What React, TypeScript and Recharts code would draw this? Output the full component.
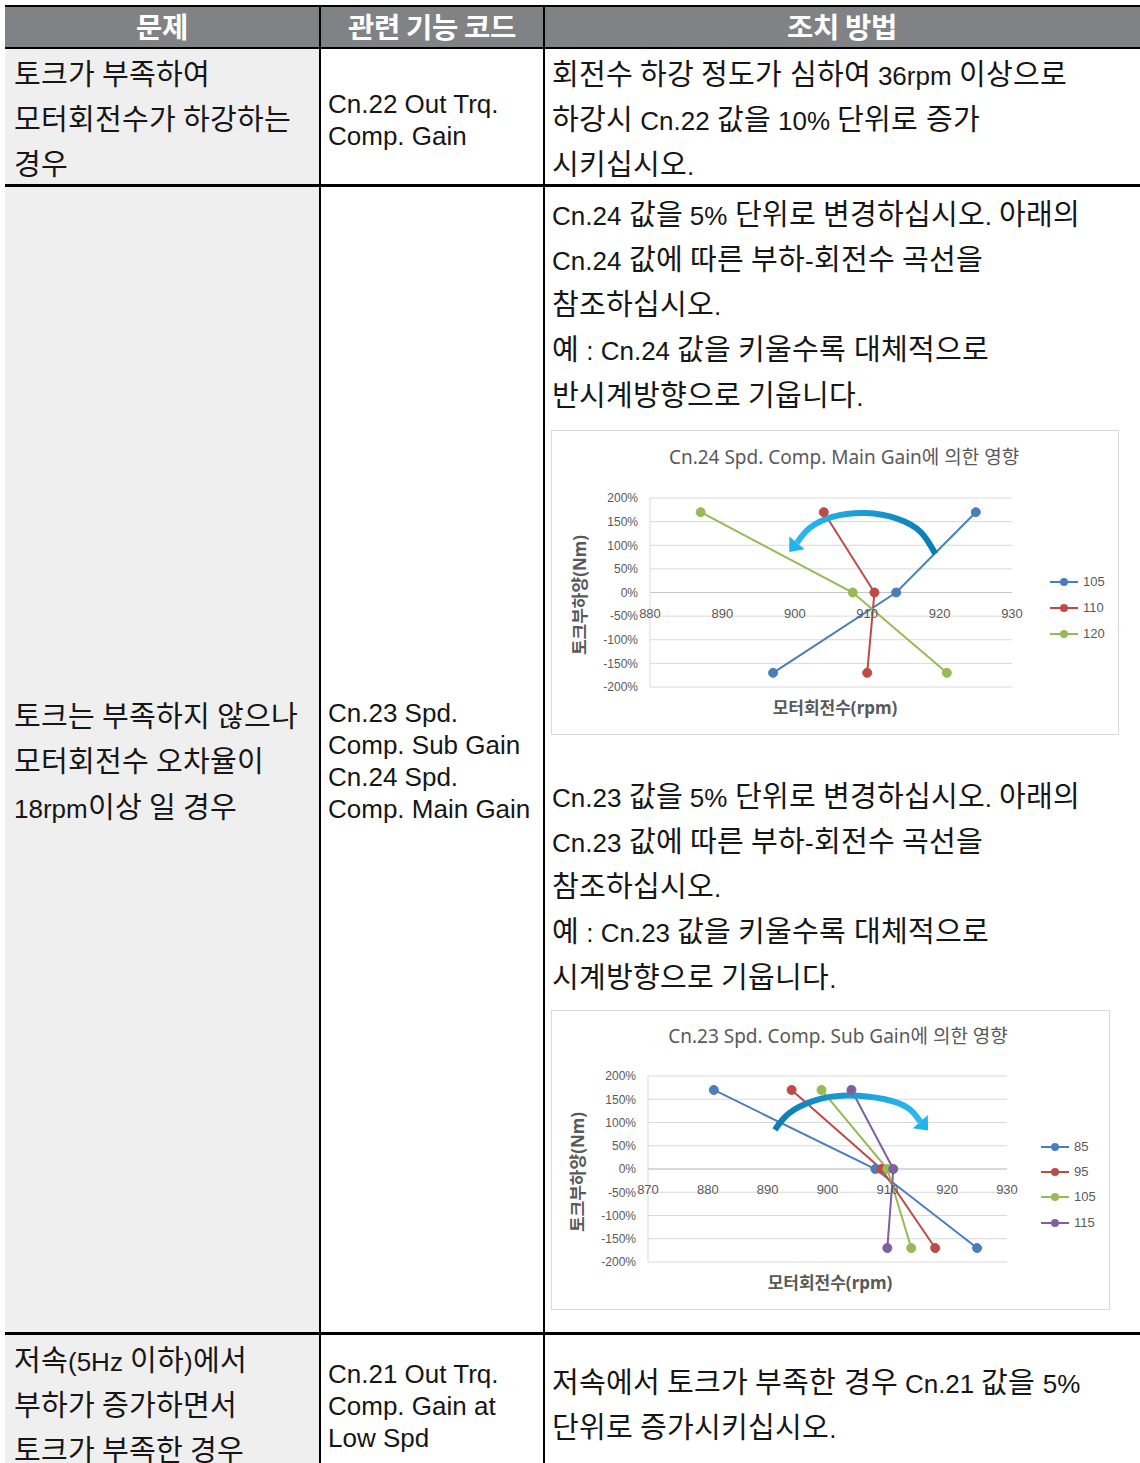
import React from 'react';
import { ComposedChart, Line, XAxis, YAxis, CartesianGrid, ReferenceLine, ReferenceDot, Legend } from 'recharts';

// ---------- data ----------
const loadLevels = [1.7, 0, -1.7];
const yTicks = [-2, -1.5, -1, -0.5, 0, 0.5, 1, 1.5, 2];

// Chart 1: Cn.24 Spd. Comp. Main Gain
const mainGainNames = ['105', '110', '120'];
const mainGain105 = [925, 914, 897];
const mainGain110 = [904, 911, 910];
const mainGain120 = [887, 908, 921];
const mainXTicks = [880, 890, 900, 910, 920, 930];
const mainArcRpm = [919.4, 917.4, 914.2, 909.8, 905.2, 902.0, 900.3];
const mainArcLoad = [0.82, 1.28, 1.56, 1.68, 1.6, 1.36, 1.05];

// Chart 2: Cn.23 Spd. Comp. Sub Gain
const subGainNames = ['85', '95', '105', '115'];
const subGain85 = [881, 908, 925];
const subGain95 = [894, 909, 918];
const subGain105 = [899, 910, 914];
const subGain115 = [904, 911, 910];
const subXTicks = [870, 880, 890, 900, 910, 920, 930];
const subArcRpm = [891.2, 893.6, 897.8, 903.2, 909.6, 913.6, 915.5];
const subArcLoad = [0.84, 1.2, 1.47, 1.58, 1.5, 1.3, 1.02];

const seriesColors = ['#4a7ebb', '#be4b48', '#98b954', '#7d60a0'];

const toPoints = (rpm: number[], load: number[]) => rpm.map((x, i) => ({ x, y: load[i] }));

const mainSeries = [mainGain105, mainGain110, mainGain120].map((r, i) => ({
  name: mainGainNames[i], color: seriesColors[i], data: toPoints(r, loadLevels),
}));
const subSeries = [subGain85, subGain95, subGain105, subGain115].map((r, i) => ({
  name: subGainNames[i], color: seriesColors[i], data: toPoints(r, loadLevels),
}));

// ---------- fonts ----------
const FONT_CSS = `
@font-face { font-family: 'KRBody'; font-weight: 400; size-adjust: 112%;
  src: local('Noto Sans CJK KR Regular'), local('NotoSansCJKkr-Regular'), local('Noto Sans CJK KR');
  unicode-range: U+1100-11FF, U+3130-318F, U+AC00-D7AF; }
@font-face { font-family: 'KRBody'; font-weight: 700; size-adjust: 110%;
  src: local('Noto Sans CJK KR Bold'), local('NotoSansCJKkr-Bold');
  unicode-range: U+1100-11FF, U+3130-318F, U+AC00-D7AF; }
`;

// ---------- chart ----------
const GREY = '#595959';
const LATIN = "'Liberation Sans', Arial, sans-serif";
const KR = "'Noto Sans', 'Noto Sans CJK KR', sans-serif";

function makeArrowDot(lastIndex: number, color: string) {
  return (props: any) => {
    const { cx, cy, index, points } = props;
    if (index !== lastIndex || cx == null) return <g key={`d${index}`} />;
    let dx = 0, dy = 1;
    if (points && points[index - 1]) {
      const p = points[index - 1];
      const len = Math.hypot(cx - p.x, cy - p.y) || 1;
      dx = (cx - p.x) / len; dy = (cy - p.y) / len;
    }
    const L = 12, W = 10;
    const nx = -dy, ny = dx;
    const pts = [
      [cx + dx * L, cy + dy * L],
      [cx + nx * W, cy + ny * W],
      [cx - nx * W, cy - ny * W],
    ].map((q) => q.join(',')).join(' ');
    return <polygon key={`d${index}`} points={pts} fill={color} />;
  };
}

type Series = { name: string; color: string; data: { x: number; y: number }[] };

function renderLegend(series: Series[], step: number) {
  return () => (
    <div style={{ fontFamily: LATIN, fontSize: 13, color: GREY }}>
      {series.map((e) => (
        <div key={e.name} style={{ display: 'flex', alignItems: 'center', height: step }}>
          <svg width={28} height={10} style={{ display: 'block' }}>
            <line x1={0} y1={5} x2={28} y2={5} stroke={e.color} strokeWidth={2} />
            <circle cx={14} cy={5} r={4} fill={e.color} />
          </svg>
          <span style={{ marginLeft: 5, lineHeight: '14px' }}>{e.name}</span>
        </div>
      ))}
    </div>
  );
}

type ChartProps = {
  id: string;
  left: number; top: number; width: number; height: number;
  margin: { top: number; right: number; bottom: number; left: number };
  title: string; titleX: number; titleY: number;
  xTitleX: number; xTitleY: number; yTitleX: number; yTitleY: number;
  legendLeft: number; legendTop: number; legendStep: number;
  series: Series[];
  xTicks: number[];
  arc: { x: number; y: number }[];
  gradFrom: string; gradTo: string; arrowColor: string;
};

function GainChart(p: ChartProps) {
  const domain: [number, number] = [p.xTicks[0], p.xTicks[p.xTicks.length - 1]];
  return (
    <div style={{ position: 'absolute', left: p.left, top: p.top, width: p.width, height: p.height, border: '1px solid #d9d9d9', background: '#fff' }}>
      <div style={{ position: 'absolute', left: p.titleX, top: p.titleY, transform: 'translate(-50%,-50%)', whiteSpace: 'nowrap', fontFamily: KR, fontSize: 19, color: GREY, lineHeight: '22px' }}>{p.title}</div>
      <div style={{ position: 'absolute', left: p.xTitleX, top: p.xTitleY, transform: 'translate(-50%,-50%)', whiteSpace: 'nowrap', fontFamily: KR, fontSize: 17, fontWeight: 700, color: GREY, lineHeight: '22px' }}>모터회전수(rpm)</div>
      <div style={{ position: 'absolute', left: p.yTitleX, top: p.yTitleY, transform: 'translate(-50%,-50%) rotate(-90deg)', whiteSpace: 'nowrap', fontFamily: KR, fontSize: 17, fontWeight: 700, color: GREY, lineHeight: '22px' }}>토크부하양(Nm)</div>
      <div style={{ position: 'absolute', left: 0, top: 0 }}>
        <ComposedChart width={p.width} height={p.height} margin={{ ...p.margin, left: 0 }}>
          <defs>
            <linearGradient id={`${p.id}grad`} x1="0" y1="0" x2="1" y2="0">
              <stop offset="0%" stopColor={p.gradFrom} />
              <stop offset="100%" stopColor={p.gradTo} />
            </linearGradient>
          </defs>
          <CartesianGrid vertical={false} stroke="#d9d9d9" />
          <XAxis dataKey="x" type="number" domain={domain} ticks={p.xTicks} hide allowDataOverflow />
          <YAxis
            type="number" domain={[-2, 2]} ticks={yTicks} width={p.margin.left}
            tickFormatter={(v: number) => `${Math.round(v * 100)}%`}
            tick={{ fill: GREY, fontSize: 12, fontFamily: LATIN }}
            tickLine={false} tickMargin={6} axisLine={{ stroke: '#d9d9d9' }}
            interval={0}
          />
          <ReferenceLine y={0} stroke="#c6c6c6" />
          {p.xTicks.map((t) => (
            <ReferenceDot key={t} x={t} y={0} r={0} fill="none" stroke="none"
              label={{ value: String(t), position: 'bottom', offset: 16, fill: GREY, fontSize: 13, fontFamily: LATIN }} />
          ))}
          {p.series.map((s) => (
            <Line key={s.name} name={s.name} data={s.data} dataKey="y" type="linear" stroke={s.color} strokeWidth={2}
              dot={{ r: 4.5, fill: s.color, stroke: s.color, strokeWidth: 1 }} activeDot={false} isAnimationActive={false} />
          ))}
          <Line name="arc" data={p.arc} dataKey="y" type="natural" stroke={`url(#${p.id}grad)`} strokeWidth={6}
            dot={makeArrowDot(p.arc.length - 1, p.arrowColor)} activeDot={false} legendType="none" isAnimationActive={false} />
          <Legend layout="vertical" align="center" verticalAlign="middle" content={renderLegend(p.series, p.legendStep)}
            wrapperStyle={{ left: p.legendLeft, top: p.legendTop, width: 70 }} />
        </ComposedChart>
      </div>
    </div>
  );
}

// ---------- page ----------
const BODY_FONT = "'Liberation Sans', 'KRBody', 'Noto Sans CJK KR', sans-serif";

function TextLines({ left, first, step, lines, size = 26 }: { left: number; first: number; step: number; lines: string[]; size?: number }) {
  return (
    <>
      {lines.map((t, i) => (
        <div key={i} style={{ position: 'absolute', left, top: first + i * step - 14.5, lineHeight: '32px', fontSize: size, whiteSpace: 'nowrap', color: '#161616', fontFamily: BODY_FONT }}>{t}</div>
      ))}
    </>
  );
}

const Rect = ({ l, t, w, h, c }: { l: number; t: number; w: number; h: number; c: string }) => (
  <div style={{ position: 'absolute', left: l, top: t, width: w, height: h, background: c }} />
);

export default function App() {
  return (
    <div style={{ position: 'absolute', left: 0, top: 0, width: 1140, height: 1463, overflow: 'hidden', background: '#fff' }}>
      <style>{FONT_CSS}</style>
      <Rect l={5} t={49} w={314} h={1414} c="#efefef" />
      <Rect l={5} t={7} w={1135} h={40} c="#808285" />
      <Rect l={5} t={5} w={1135} h={2} c="#000" />
      <Rect l={5} t={47} w={1135} h={2} c="#000" />
      <Rect l={5} t={184} w={1135} h={3} c="#000" />
      <Rect l={5} t={1332} w={1135} h={3} c="#000" />
      <Rect l={319} t={7} w={2} h={1456} c="#000" />
      <Rect l={543} t={7} w={2} h={1456} c="#000" />

      {[['문제', 162], ['관련 기능 코드', 432], ['조치 방법', 842]].map(([t, x]) => (
        <div key={t as string} style={{ position: 'absolute', left: x as number, top: 27, transform: 'translate(-50%,-50%)', color: '#fff', fontWeight: 700, fontSize: 26, fontFamily: "'KRBody', 'Noto Sans CJK KR', sans-serif", lineHeight: '32px', whiteSpace: 'nowrap' }}>{t}</div>
      ))}

      <TextLines left={14} first={74} step={45} lines={['토크가 부족하여', '모터회전수가 하강하는', '경우']} />
      <TextLines left={328} first={102} step={32} lines={['Cn.22 Out Trq.', 'Comp. Gain']} />
      <TextLines left={552} first={74} step={45} lines={['회전수 하강 정도가 심하여 36rpm 이상으로', '하강시 Cn.22 값을 10% 단위로 증가', '시키십시오.']} />

      <TextLines left={14} first={716} step={45.5} lines={['토크는 부족하지 않으나', '모터회전수 오차율이', '18rpm이상 일 경우']} />
      <TextLines left={328} first={711} step={32.3} lines={['Cn.23 Spd.', 'Comp. Sub Gain', 'Cn.24 Spd.', 'Comp. Main Gain']} />
      <TextLines left={552} first={214} step={45.25} lines={['Cn.24 값을 5% 단위로 변경하십시오. 아래의', 'Cn.24 값에 따른 부하-회전수 곡선을', '참조하십시오.', '예 : Cn.24 값을 키울수록 대체적으로', '반시계방향으로 기웁니다.']} />
      <TextLines left={552} first={796} step={45.25} lines={['Cn.23 값을 5% 단위로 변경하십시오. 아래의', 'Cn.23 값에 따른 부하-회전수 곡선을', '참조하십시오.', '예 : Cn.23 값을 키울수록 대체적으로', '시계방향으로 기웁니다.']} />

      <TextLines left={14} first={1360} step={45} lines={['저속(5Hz 이하)에서', '부하가 증가하면서', '토크가 부족한 경우']} />
      <TextLines left={328} first={1372} step={32} lines={['Cn.21 Out Trq.', 'Comp. Gain at', 'Low Spd']} />
      <TextLines left={552} first={1382} step={45} lines={['저속에서 토크가 부족한 경우 Cn.21 값을 5%', '단위로 증가시키십시오.']} />

      <GainChart
        id="main" left={551} top={430} width={566} height={303}
        margin={{ top: 67, right: 106, bottom: 47, left: 98 }}
        title="Cn.24 Spd. Comp. Main Gain에 의한 영향" titleX={292} titleY={26}
        xTitleX={283} xTitleY={277} yTitleX={28} yTitleY={164}
        legendLeft={498} legendTop={138} legendStep={26}
        series={mainSeries} xTicks={mainXTicks} arc={toPoints(mainArcRpm, mainArcLoad)}
        gradFrom="#2bb8f2" gradTo="#0a7db3" arrowColor="#22b2ee"
      />
      <GainChart
        id="sub" left={551} top={1010} width={557} height={298}
        margin={{ top: 65, right: 102, bottom: 47, left: 96 }}
        title="Cn.23 Spd. Comp. Sub Gain에 의한 영향" titleX={286} titleY={25}
        xTitleX={278} xTitleY={272} yTitleX={26} yTitleY={161}
        legendLeft={489} legendTop={123} legendStep={25.4}
        series={subSeries} xTicks={subXTicks} arc={toPoints(subArcRpm, subArcLoad)}
        gradFrom="#0a7db3" gradTo="#2bb8f2" arrowColor="#22b4ef"
      />
    </div>
  );
}
